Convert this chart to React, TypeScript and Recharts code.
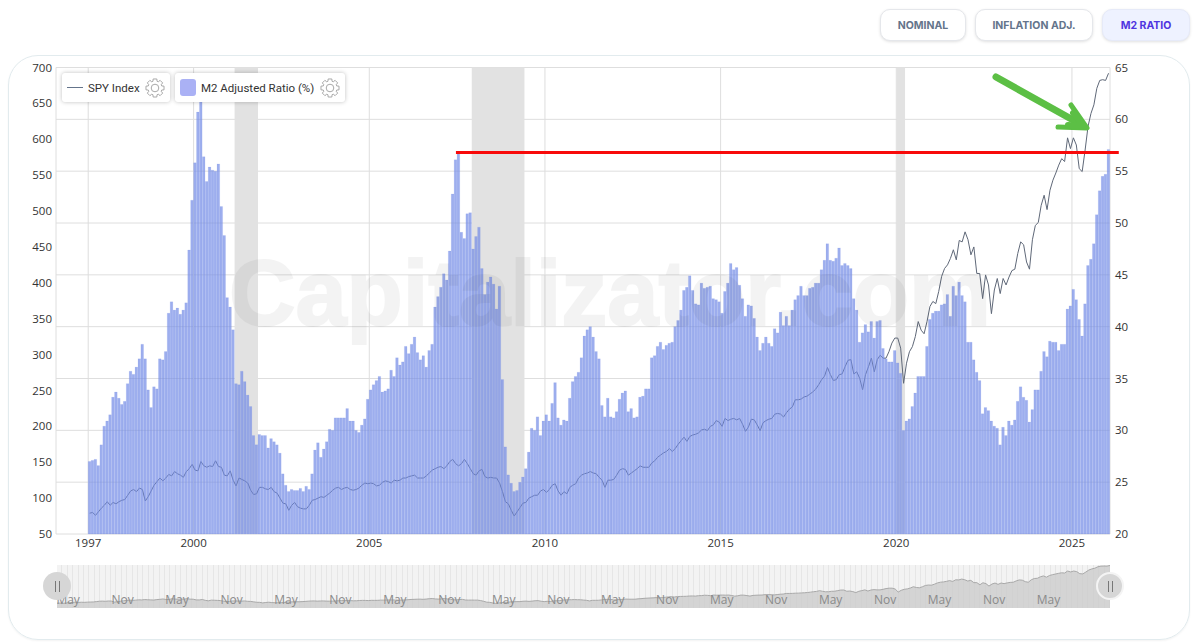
import React from 'react';
import {
  ComposedChart,
  AreaChart,
  Area,
  Bar,
  Line,
  XAxis,
  YAxis,
  CartesianGrid,
  Legend,
  ReferenceArea,
  ReferenceLine,
} from 'recharts';

const FONT = '"Open Sans", "Noto Sans", sans-serif';

// monthly, Jan 1997 to Jan 2026
const m2Ratio = [
  27.0, 27.1, 27.2, 26.6, 28.6, 30.4, 30.9, 31.5, 33.2, 33.7, 33.1, 32.5,
  32.8, 34.5, 35.7, 35.4, 36.1, 36.9, 38.3, 36.9, 33.9, 32.2, 34.2, 34.0,
  36.9, 36.8, 37.6, 41.3, 42.4, 41.6, 41.8, 41.2, 41.6, 42.3, 47.4, 52.2,
  55.8, 60.7, 63.0, 56.4, 54.0, 55.4, 55.1, 55.0, 55.7, 51.6, 48.8, 42.8,
  41.9, 39.7, 34.5, 34.4, 35.7, 34.7, 33.4, 32.3, 29.5, 28.6, 29.6, 29.5,
  29.5, 28.3, 29.2, 28.9, 28.6, 27.8, 25.8, 24.7, 24.1, 24.3, 24.2, 24.2,
  24.4, 24.1, 24.6, 24.3, 25.8, 28.1, 28.8, 27.4, 28.2, 28.9, 30.1, 30.0,
  31.2, 31.2, 31.2, 31.2, 32.1, 30.9, 30.9, 30.0, 29.8, 30.5, 31.1, 33.0,
  33.9, 34.4, 34.8, 35.2, 33.7, 33.8, 34.0, 35.8, 35.2, 37.0, 36.3, 36.6,
  38.1, 37.4, 38.3, 39.0, 37.5, 36.8, 37.2, 36.1, 37.7, 38.3, 41.9, 42.9,
  43.8, 45.1, 44.5, 47.3, 52.8, 56.1, 56.7, 49.1, 48.5, 50.9, 51.0, 47.5,
  48.7, 49.6, 45.6, 43.1, 44.3, 44.8, 44.1, 41.7, 43.9, 34.9, 28.4, 25.7,
  24.9, 24.1, 24.2, 25.0, 25.5, 26.3, 27.9, 30.2, 30.0, 31.3, 29.5, 30.9,
  31.5, 30.9, 32.6, 34.6, 31.2, 30.5, 31.0, 30.9, 33.1, 34.7, 35.2, 35.6,
  37.0, 39.1, 39.7, 40.0, 39.0, 37.6, 36.9, 32.4, 31.3, 33.1, 31.3, 31.2,
  31.8, 33.0, 33.6, 33.8, 31.8, 32.1, 31.2, 31.3, 33.2, 33.3, 34.0, 34.0,
  37.0, 37.2, 38.1, 38.5, 37.8, 38.2, 38.4, 38.5, 40.0, 40.6, 41.6, 43.5,
  43.8, 44.9, 43.5, 42.2, 42.1, 44.2, 43.7, 43.8, 43.9, 42.7, 42.6, 42.4,
  41.3, 43.4, 44.2, 46.1, 45.5, 45.7, 44.0, 42.7, 41.0, 42.1, 42.0, 40.8,
  39.0, 37.7, 38.4, 39.0, 38.4, 38.1, 39.8, 39.4, 41.4, 40.1, 41.0, 40.1,
  41.6, 42.6, 43.0, 43.9, 43.0, 43.0, 43.7, 43.8, 44.2, 44.2, 45.5, 46.4,
  48.0, 46.4, 46.3, 46.6, 47.6, 45.9, 46.1, 45.9, 45.6, 42.7, 41.6, 38.5,
  39.4, 40.2, 39.5, 40.5, 38.9, 40.5, 40.6, 37.9, 36.9, 36.6, 36.6, 37.7,
  36.5, 35.5, 30.0, 30.9, 31.1, 32.3, 33.6, 35.2, 35.2, 35.2, 38.1, 40.7,
  41.3, 41.5, 41.5, 42.1, 42.2, 43.1, 41.0, 43.9, 43.0, 44.3, 43.0, 42.4,
  38.5, 38.5, 36.8, 35.6, 34.8, 31.6, 32.2, 31.9, 30.9, 30.4, 30.2, 28.6,
  30.3, 29.5, 30.9, 30.5, 31.0, 32.8, 34.2, 33.2, 32.9, 30.8, 32.0, 33.9,
  33.9, 35.7, 37.6, 37.1, 38.6, 38.5, 38.5, 37.7, 38.3, 38.3, 41.7, 42.0,
  43.6, 42.6, 40.7, 39.1, 42.2, 45.9, 46.5, 48.0, 50.8, 53.1, 54.5, 54.7,
  57.1,
];

const spyIndex = [
  79, 80, 76, 81, 86, 90, 95, 90, 94, 92, 95, 97,
  98, 104, 110, 112, 109, 114, 112, 96, 102, 110, 118, 123,
  128, 124, 128, 133, 131, 137, 134, 132, 129, 137, 141, 147,
  139, 138, 151, 145, 143, 145, 144, 152, 144, 143, 132, 131,
  138, 125, 117, 128, 126, 124, 121, 111, 105, 106, 115, 115,
  113, 112, 115, 109, 107, 100, 93, 92, 83, 90, 94, 88,
  86, 85, 85, 90, 97, 98, 100, 102, 101, 104, 107, 111,
  114, 115, 112, 114, 115, 112, 111, 112, 114, 118, 121, 120,
  121, 120, 117, 118, 122, 124, 123, 121, 125, 124, 125, 128,
  128, 130, 131, 132, 128, 128, 128, 131, 135, 139, 141, 143,
  144, 141, 145, 151, 154, 148, 145, 148, 154, 148, 141, 134,
  132, 138, 140, 130, 128, 129, 128, 128, 121, 109, 95, 92,
  83, 75, 81, 87, 93, 94, 100, 102, 104, 104, 110, 112,
  108, 112, 118, 120, 110, 104, 109, 106, 115, 118, 120, 128,
  132, 134, 135, 137, 135, 134, 129, 125, 115, 125, 125, 126,
  132, 139, 141, 140, 132, 135, 138, 141, 145, 143, 143, 143,
  149, 152, 157, 160, 163, 165, 169, 165, 169, 175, 180, 185,
  179, 186, 188, 189, 191, 195, 196, 194, 200, 202, 208, 206,
  200, 211, 208, 210, 211, 209, 211, 203, 193, 199, 210, 209,
  202, 194, 205, 208, 210, 211, 217, 218, 217, 213, 219, 224,
  227, 237, 237, 238, 241, 242, 245, 248, 252, 258, 265, 270,
  282, 272, 264, 265, 272, 273, 283, 292, 293, 273, 276, 267,
  251, 272, 283, 295, 276, 293, 299, 295, 295, 304, 316, 323,
  323, 309, 260, 288, 304, 311, 325, 346, 334, 329, 346, 367,
  374, 371, 388, 409, 420, 425, 434, 446, 432, 459, 457, 471,
  460, 439, 450, 413, 413, 378, 411, 397, 357, 390, 406, 385,
  406, 397, 408, 417, 419, 441, 457, 453, 429, 419, 460, 480,
  484, 508, 522, 502, 529, 543, 553, 564, 573, 569, 602, 587,
  602, 592, 559, 555, 585, 618, 636, 648, 671, 682, 683, 682,
  692,
];

const yearTicks = [0, 36, 96, 156, 216, 276, 336];
const leftTicks = [50, 100, 150, 200, 250, 300, 350, 400, 450, 500, 550, 600, 650, 700];
const rightTicks = [20, 25, 30, 35, 40, 45, 50, 55, 60, 65];
const miniTicks = [4, 22, 40, 58, 76, 94, 112, 130, 148, 166, 184, 202, 220, 238, 256, 274, 292, 310, 328];
const recessions = [
  [50, 58],
  [131, 149],
  [276.2, 279],
];
const peakLevel = 56.8;
const peakStart = 125.6;
const peakEnd = 352;
const buttons = ['NOMINAL', 'INFLATION ADJ.', 'M2 RATIO'];

const chartData = m2Ratio.map((ratio, i) => ({ x: i + 0.5, ratio, spy: spyIndex[i] }));
const miniData = spyIndex.map((spy, i) => ({ i, spy }));

function Gear({ size = 20 }: { size?: number }) {
  const pts: string[] = [];
  for (let t = 0; t < 8; t++) {
    const a = (t / 8) * Math.PI * 2;
    [[-0.3, 7], [-0.2, 9.2], [0.2, 9.2], [0.3, 7]].forEach(([da, r]) => {
      pts.push(`${(10 + Math.cos(a + da) * r).toFixed(2)},${(10 + Math.sin(a + da) * r).toFixed(2)}`);
    });
  }
  return (
    <svg width={size} height={size} viewBox="0 0 20 20" style={{ display: 'block' }}>
      <polygon points={pts.join(' ')} fill="none" stroke="#a8a8a8" strokeWidth={1} strokeLinejoin="round" />
      <circle cx={10} cy={10} r={3.8} fill="none" stroke="#a8a8a8" strokeWidth={1} />
    </svg>
  );
}

const legendBox: React.CSSProperties = {
  position: 'absolute',
  top: 0,
  height: 29,
  background: '#fff',
  borderRadius: 3,
  boxShadow: '0 0 4px rgba(0,0,0,0.25)',
  display: 'flex',
  alignItems: 'center',
  fontFamily: 'Roboto, sans-serif',
  fontSize: 11.5,
  color: '#333',
};

function ChartLegend() {
  return (
    <div style={{ position: 'relative', width: 290, height: 29 }}>
      <div style={{ ...legendBox, left: 0, width: 108 }}>
        <span style={{ width: 16, height: 1, marginLeft: 5, background: '#64748b' }} />
        <span style={{ marginLeft: 5, whiteSpace: 'nowrap' }}>SPY Index</span>
        <span style={{ position: 'absolute', left: 83 }}><Gear /></span>
      </div>
      <div style={{ ...legendBox, left: 113, width: 170 }}>
        <span style={{ width: 16, height: 17, marginLeft: 5, borderRadius: 3, background: '#aab1f5' }} />
        <span style={{ marginLeft: 5, whiteSpace: 'nowrap' }}>M2 Adjusted Ratio (%)</span>
        <span style={{ position: 'absolute', left: 145 }}><Gear /></span>
      </div>
    </div>
  );
}

function Handle({ left, ring }: { left: number; ring: boolean }) {
  return (
    <div
      style={{
        position: 'absolute',
        left: left - 14,
        top: 572,
        width: 28,
        height: 28,
        boxSizing: 'border-box',
        borderRadius: '50%',
        background: '#d6d6d6',
        border: ring ? '2px solid #f4f4f4' : 'none',
        display: 'flex',
        alignItems: 'center',
        justifyContent: 'center',
        gap: 3,
      }}
    >
      <span style={{ width: 1, height: 11, background: '#777' }} />
      <span style={{ width: 1, height: 11, background: '#777' }} />
    </div>
  );
}

export default function App() {
  return (
    <div style={{ position: 'fixed', left: 0, top: 0, width: 1200, height: 643, overflow: 'hidden', background: '#fff' }}>
      {buttons.map((label, idx) => {
        const active = label === 'M2 RATIO';
        const pos = [
          { left: 880, width: 86 },
          { left: 975, width: 118 },
          { left: 1102, width: 88 },
        ][idx];
        return (
          <div
            key={label}
            style={{
              position: 'absolute',
              top: 9,
              height: 32,
              ...pos,
              boxSizing: 'border-box',
              borderRadius: 10,
              border: active ? '1px solid #e6eaf8' : '1px solid #e5e7eb',
              background: active ? '#eef2ff' : '#fff',
              boxShadow: '0 1px 3px rgba(0,0,0,0.12)',
              color: active ? '#4f35e0' : '#64748b',
              fontFamily: 'Inter, sans-serif',
              fontWeight: 700,
              fontSize: 10.5,
              display: 'flex',
              alignItems: 'center',
              justifyContent: 'center',
            }}
          >
            {label}
          </div>
        );
      })}

      <div
        style={{
          position: 'absolute',
          left: 8,
          top: 55,
          width: 1182,
          height: 585,
          boxSizing: 'border-box',
          border: '1px solid #e2ebee',
          borderRadius: 30,
          boxShadow: '0 1px 2px rgba(0,0,0,0.05)',
        }}
      />

      <div style={{ position: 'absolute', left: 0, top: 0 }}>
        <ComposedChart
          width={1200}
          height={643}
          data={chartData}
          margin={{ top: 67.5, right: 40, bottom: 79, left: 8 }}
          barCategoryGap={0}
          barGap={0}
        >
          <CartesianGrid stroke="#dedede" yAxisId="right" />
          <XAxis
            dataKey="x"
            type="number"
            domain={[-11, 349]}
            allowDataOverflow
            ticks={yearTicks}
            interval={0}
            tickFormatter={(v: number) => String(1997 + v / 12)}
            axisLine={false}
            tickLine={false}
            tickSize={0}
            height={30}
            tickMargin={5}
            tick={{ fill: '#333', fontSize: 11.5, fontFamily: FONT }}
          />
          <YAxis
            yAxisId="left"
            orientation="left"
            width={48}
            domain={[50, 700]}
            ticks={leftTicks}
            interval={0}
            axisLine={false}
            tickLine={false}
            tickSize={0}
            tickMargin={4}
            tick={{ fill: '#333', fontSize: 11.5, fontFamily: FONT }}
          />
          <YAxis
            yAxisId="right"
            orientation="right"
            width={50}
            domain={[20, 65]}
            ticks={rightTicks}
            interval={0}
            axisLine={false}
            tickLine={false}
            tickSize={0}
            tickMargin={5}
            tick={{ fill: '#333', fontSize: 11.5, fontFamily: FONT }}
          />
          {recessions.map(([a, b]) => (
            <ReferenceArea key={a} yAxisId="right" x1={a} x2={b} fill="#e2e2e2" fillOpacity={1} stroke="none" />
          ))}
          <Line
            yAxisId="left"
            dataKey="spy"
            name="SPY Index"
            stroke="#5f6878"
            strokeWidth={1}
            dot={false}
            type="linear"
            zIndex={200}
            isAnimationActive={false}
          />
          <Bar
            yAxisId="right"
            dataKey="ratio"
            name="M2 Adjusted Ratio (%)"
            barSize={3.02}
            fill="#738be7"
            fillOpacity={0.7}
            stroke="#6f86e6"
            strokeOpacity={0.22}
            strokeWidth={0.5}
            isAnimationActive={false}
          />
          <ReferenceLine
            yAxisId="right"
            segment={[
              { x: peakStart, y: peakLevel },
              { x: peakEnd, y: peakLevel },
            ]}
            ifOverflow="visible"
            stroke="#f80a0a"
            strokeWidth={3}
            zIndex={900}
          />
          <Legend
            content={() => <ChartLegend />}
            layout="horizontal"
            align="center"
            verticalAlign="middle"
            wrapperStyle={{ position: 'absolute', left: 62, top: 73, width: 290, height: 29 }}
          />
        </ComposedChart>
      </div>

      {/* watermark */}
      <div
        style={{
          position: 'absolute',
          left: 229,
          top: 243,
          fontFamily: '"Liberation Sans", sans-serif',
          fontWeight: 700,
          fontSize: 92,
          lineHeight: '100px',
          color: '#000',
          WebkitTextStroke: '2px #000',
          opacity: 0.045,
          whiteSpace: 'nowrap',
        }}
      >
        Capitalizator.com
      </div>

      {/* hand drawn arrow */}
      <svg width={1200} height={643} style={{ position: 'absolute', left: 0, top: 0, pointerEvents: 'none' }}>
        <g fill="none" stroke="#5cbf45" strokeLinecap="round" strokeLinejoin="round">
          <path d="M996,77 L1082,125" strokeWidth={7} />
          <path d="M1071,105 L1087,128 L1058,127" strokeWidth={5} />
          <path d="M1073,113 L1084,126 L1068,125" strokeWidth={6} />
        </g>
      </svg>

      {/* range selector */}
      <div
        style={{
          position: 'absolute',
          left: 57,
          top: 565,
          width: 1053,
          height: 43,
          background: 'repeating-linear-gradient(90deg, #f3f3f3 0, #f3f3f3 4.4px, #e6e6e6 4.4px, #e6e6e6 5.4px)',
        }}
      >
        <AreaChart width={1053} height={43} data={miniData} margin={{ top: 0, right: 0, bottom: 0, left: 0 }}>
          <XAxis
            dataKey="i"
            type="number"
            domain={[0, 348]}
            ticks={miniTicks}
            interval={0}
            mirror
            height={14}
            axisLine={false}
            tickLine={false}
            tickFormatter={(v: number) => (v % 12 === 4 ? 'May' : 'Nov')}
            tick={{ fill: '#8a8a8a', fontSize: 12, fontFamily: FONT, dy: 4, dx: -1 }}
          />
          <YAxis hide domain={[0, 700]} />
          <Area
            dataKey="spy"
            type="linear"
            stroke="#a9a9a9"
            strokeWidth={1}
            fill="#c9c9c9"
            fillOpacity={0.75}
            isAnimationActive={false}
          />
        </AreaChart>
      </div>
      <Handle left={57} ring={false} />
      <Handle left={1110} ring />
    </div>
  );
}
